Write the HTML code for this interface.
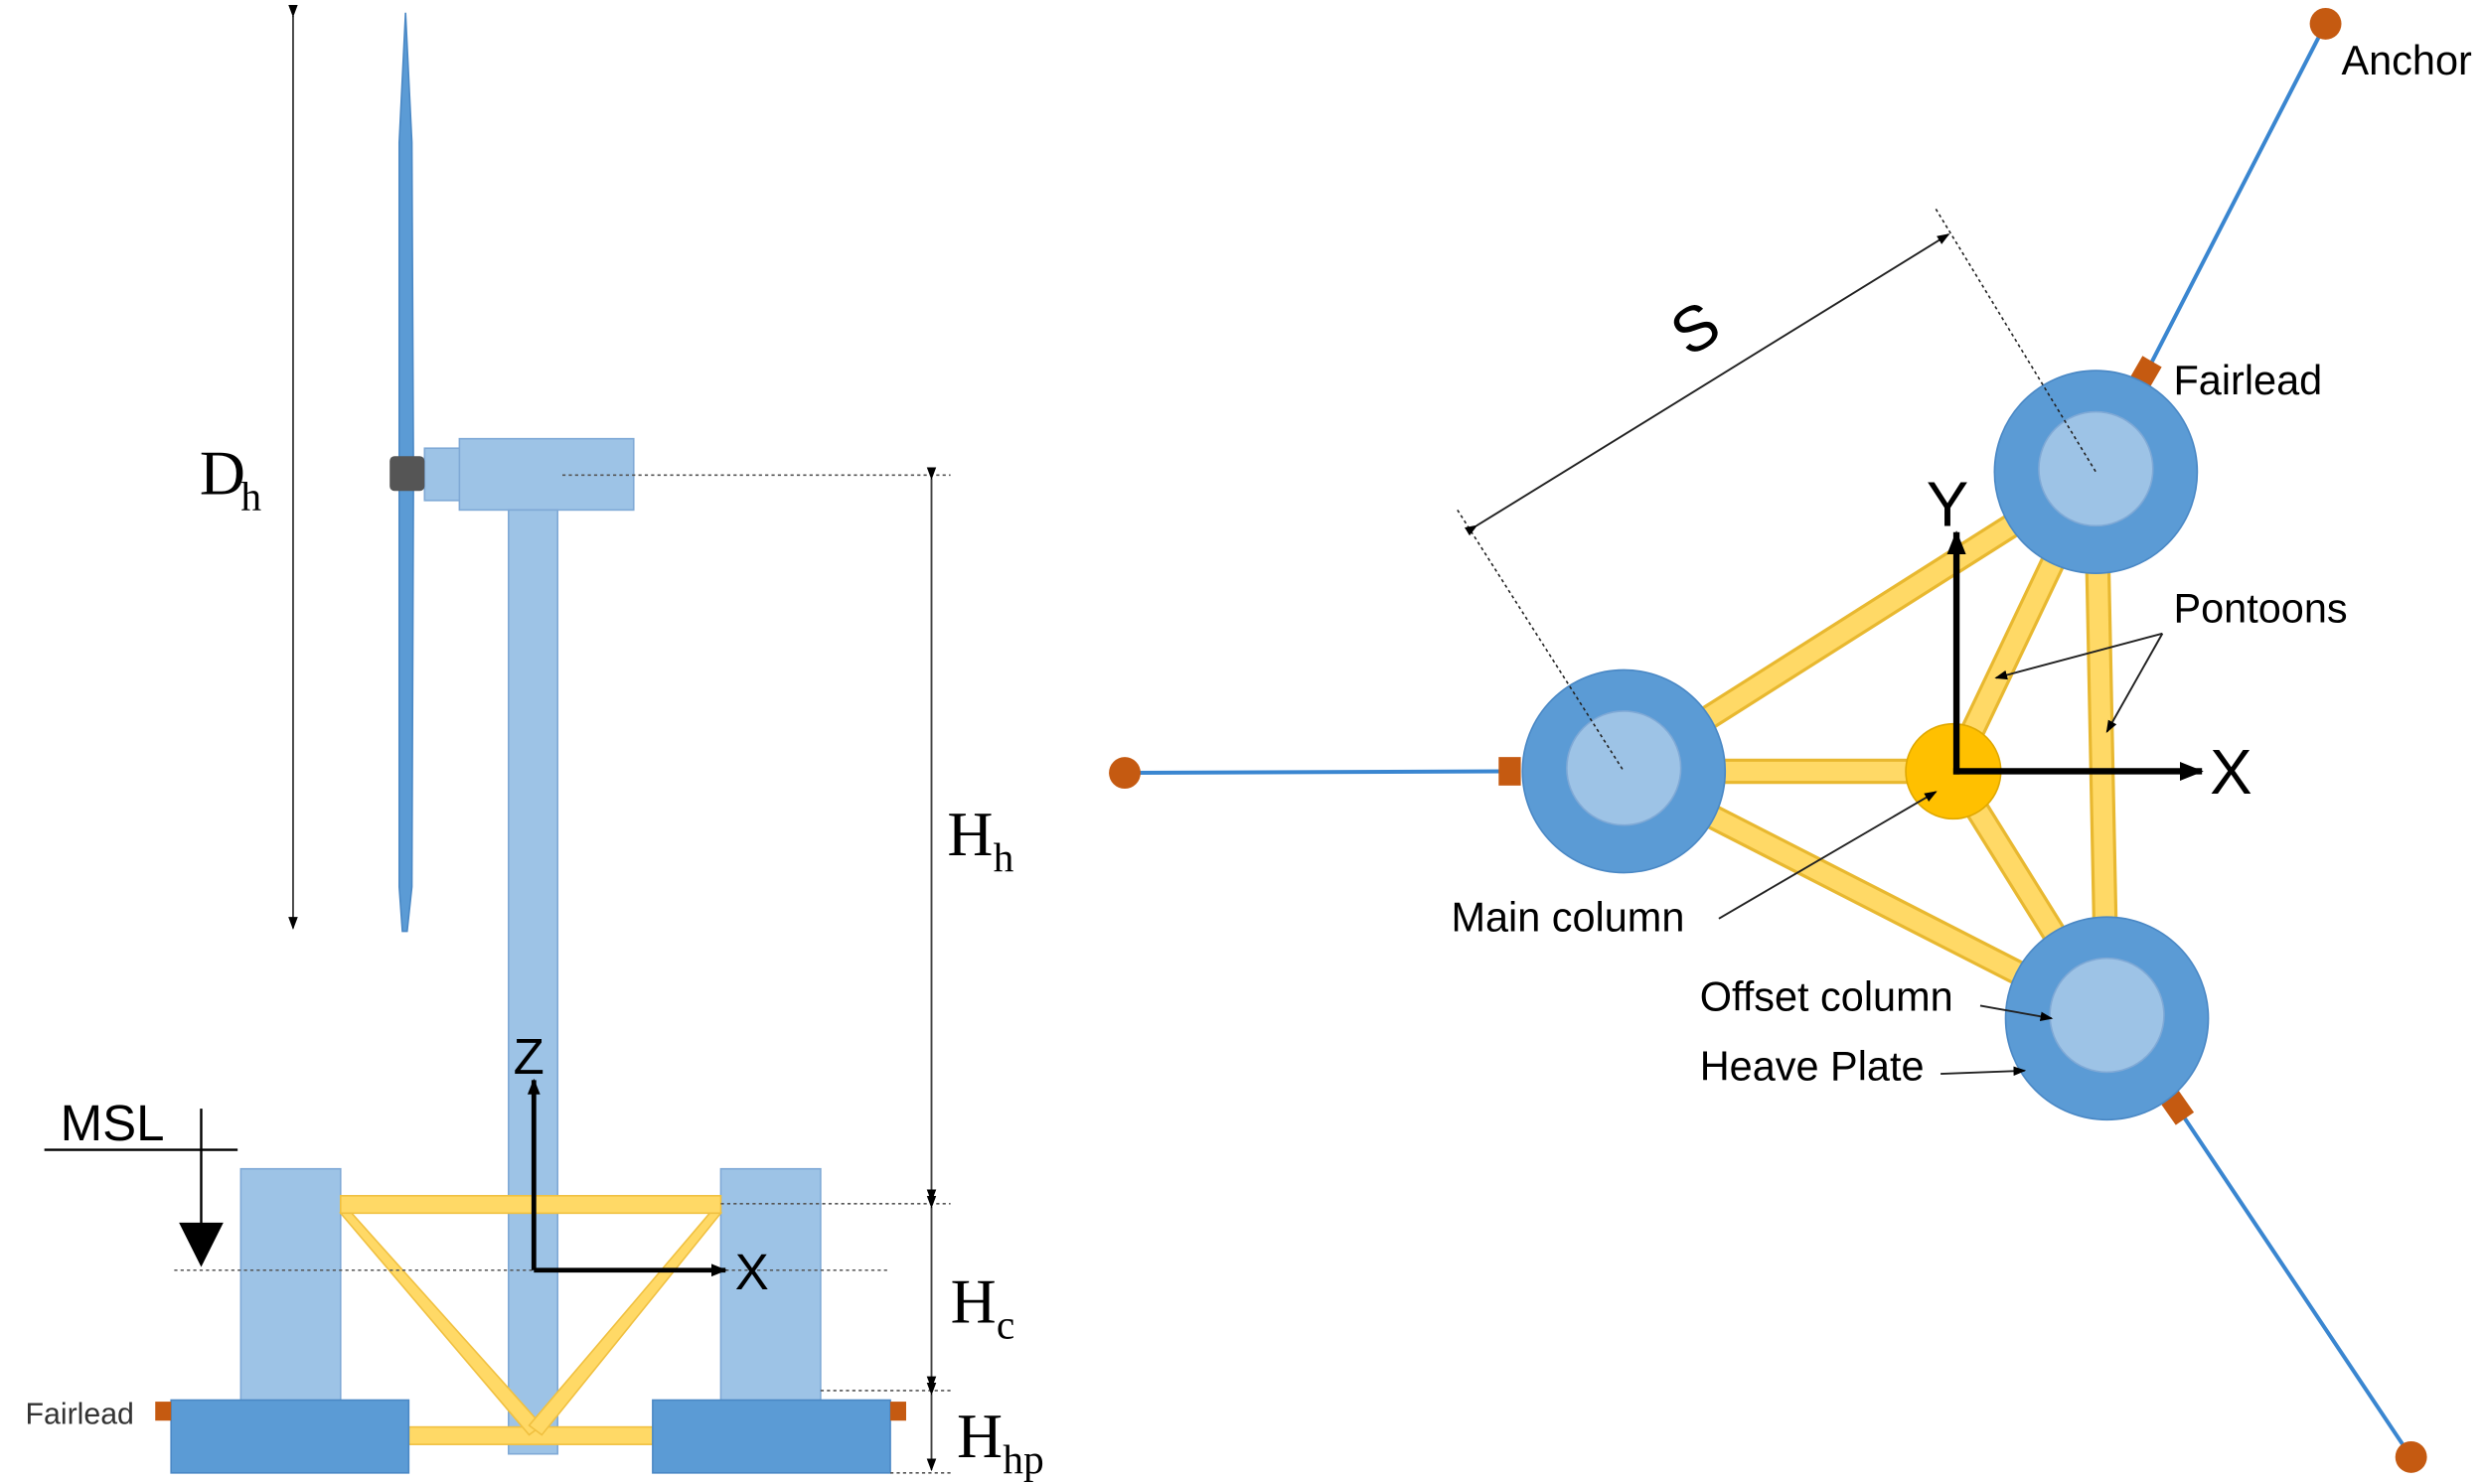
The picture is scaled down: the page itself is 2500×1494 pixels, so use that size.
<!DOCTYPE html>
<html><head><meta charset="utf-8"><style>
html,body{margin:0;padding:0;background:#fff;}
svg{display:block;}
text{font-family:"Liberation Sans",sans-serif;}
.serif{font-family:"Liberation Serif",serif;}
</style></head><body>
<svg width="2500" height="1494" viewBox="0 0 1568 937" preserveAspectRatio="none" xmlns="http://www.w3.org/2000/svg">
<defs>
<marker id="a" markerWidth="10" markerHeight="10" refX="9" refY="5" orient="auto" markerUnits="userSpaceOnUse"><path d="M0,1 L10,5 L0,9 z" fill="#000"/></marker>
<marker id="as" markerWidth="8" markerHeight="8" refX="7" refY="4" orient="auto" markerUnits="userSpaceOnUse"><path d="M0,1 L8,4 L0,7 z" fill="#000"/></marker>
<marker id="ab" markerWidth="16" markerHeight="16" refX="14" refY="8" orient="auto" markerUnits="userSpaceOnUse"><path d="M0,2 L15,8 L0,14 z" fill="#000"/></marker>
</defs>
<rect width="1568" height="937" fill="#fff"/>

<line x1="185" y1="10" x2="185" y2="586" stroke="#444" stroke-width="1.2" marker-start="url(#as)" marker-end="url(#as)"/>
<text x="126" y="312" class="serif" font-size="40">D</text><text x="152" y="322" class="serif" font-size="26">h</text>
<path d="M256,8 L260,90 L261,300 L260,560 L257,588 L254,588 L252,560 L252,300 L252,90 Z" fill="#5b9bd5" stroke="#4a88c5" stroke-width="1"/>
<rect x="268" y="283" width="24" height="33" fill="#9dc3e6" stroke="#7fa9d6"/>
<rect x="290" y="277" width="110" height="45" fill="#9dc3e6" stroke="#7fa9d6"/>
<rect x="246" y="288" width="22" height="22" fill="#555" rx="3"/>
<rect x="321" y="322" width="31" height="596" fill="#9dc3e6" stroke="#7fa9d6"/>
<line x1="355" y1="300" x2="600" y2="300" stroke="#555" stroke-dasharray="2,2"/>
<line x1="588" y1="302" x2="588" y2="758" stroke="#444" stroke-width="1.2" marker-start="url(#as)" marker-end="url(#as)"/>
<text x="598" y="540" class="serif" font-size="40">H</text><text x="627" y="550" class="serif" font-size="26">h</text>
<rect x="152" y="738" width="63" height="147" fill="#9dc3e6" stroke="#7fa9d6"/>
<rect x="455" y="738" width="63" height="147" fill="#9dc3e6" stroke="#7fa9d6"/>
<g fill="#ffd966" stroke="#f0c040" stroke-width="1">
<rect x="215" y="755" width="240" height="11"/>
<rect x="258" y="901" width="154" height="11"/>
<polygon points="215,766 222,766 342,900 334,906"/>
<polygon points="455,766 448,766 334,900 342,906"/>
</g>
<rect x="108" y="884" width="150" height="46" fill="#5b9bd5" stroke="#4a88c5"/>
<rect x="412" y="884" width="150" height="46" fill="#5b9bd5" stroke="#4a88c5"/>
<rect x="98" y="885" width="10" height="12" fill="#c55a11"/>
<rect x="562" y="885" width="10" height="12" fill="#c55a11"/>
<text x="16" y="899" font-size="19" fill="#333">Fairlead</text>
<line x1="110" y1="802" x2="560" y2="802" stroke="#555" stroke-dasharray="2,2"/>
<line x1="455" y1="760" x2="600" y2="760" stroke="#555" stroke-dasharray="2,2"/>
<line x1="518" y1="878" x2="600" y2="878" stroke="#555" stroke-dasharray="2,2"/>
<line x1="562" y1="930" x2="600" y2="930" stroke="#555" stroke-dasharray="2,2"/>
<line x1="588" y1="762" x2="588" y2="876" stroke="#444" stroke-width="1.2" marker-start="url(#as)" marker-end="url(#as)"/>
<line x1="588" y1="880" x2="588" y2="928" stroke="#444" stroke-width="1.2" marker-start="url(#as)" marker-end="url(#as)"/>
<text x="600" y="835" class="serif" font-size="40">H</text><text x="629" y="845" class="serif" font-size="26">c</text>
<text x="604" y="920" class="serif" font-size="40">H</text><text x="633" y="930" class="serif" font-size="26">hp</text>
<text x="38" y="720" font-size="32">MSL</text>
<line x1="28" y1="726" x2="150" y2="726" stroke="#000" stroke-width="1.5"/>
<line x1="127" y1="700" x2="127" y2="775" stroke="#000" stroke-width="1.5"/>
<polygon points="113,772 141,772 127,800" fill="#000"/>
<line x1="337" y1="802" x2="337" y2="682" stroke="#000" stroke-width="3" marker-end="url(#a)"/>
<line x1="337" y1="802" x2="458" y2="802" stroke="#000" stroke-width="3" marker-end="url(#a)"/>
<text x="324" y="678" font-size="32">Z</text>
<text x="464" y="814" font-size="32">X</text>

<g stroke="#3a86d0" stroke-width="2.5">
<line x1="710" y1="488" x2="950" y2="487"/>
<line x1="1355" y1="235" x2="1468" y2="15"/>
<line x1="1375" y1="700" x2="1522" y2="920"/>
</g>
<g fill="#c55a11">
<circle cx="710" cy="488" r="10"/>
<circle cx="1468" cy="15" r="10"/>
<circle cx="1522" cy="920" r="10"/>
<rect x="946" y="478" width="14" height="18"/>
<rect x="1347" y="227" width="14" height="18" transform="rotate(30 1354 236)"/>
<rect x="1367" y="690" width="14" height="18" transform="rotate(-35 1374 699)"/>
</g>
<g stroke="#e8b830" stroke-width="16">
<line x1="1025" y1="487" x2="1323" y2="298"/>
<line x1="1025" y1="487" x2="1330" y2="643"/>
<line x1="1323" y1="298" x2="1330" y2="643"/>
<line x1="1025" y1="487" x2="1233" y2="487"/>
<line x1="1233" y1="487" x2="1323" y2="298"/>
<line x1="1233" y1="487" x2="1330" y2="643"/>
</g>
<g stroke="#ffd966" stroke-width="12">
<line x1="1025" y1="487" x2="1323" y2="298"/>
<line x1="1025" y1="487" x2="1330" y2="643"/>
<line x1="1323" y1="298" x2="1330" y2="643"/>
<line x1="1025" y1="487" x2="1233" y2="487"/>
<line x1="1233" y1="487" x2="1323" y2="298"/>
<line x1="1233" y1="487" x2="1330" y2="643"/>
</g>
<circle cx="1025" cy="487" r="64" fill="#5b9bd5" stroke="#4a88c5"/>
<circle cx="1025" cy="485" r="36" fill="#9dc3e6" stroke="#7fa9d6"/>
<circle cx="1323" cy="298" r="64" fill="#5b9bd5" stroke="#4a88c5"/>
<circle cx="1323" cy="296" r="36" fill="#9dc3e6" stroke="#7fa9d6"/>
<circle cx="1330" cy="643" r="64" fill="#5b9bd5" stroke="#4a88c5"/>
<circle cx="1330" cy="641" r="36" fill="#9dc3e6" stroke="#7fa9d6"/>
<circle cx="1233" cy="487" r="30" fill="#ffc000" stroke="#e0a800"/>
<line x1="1235" y1="489" x2="1235" y2="336" stroke="#000" stroke-width="4" marker-end="url(#ab)"/>
<line x1="1233" y1="487" x2="1390" y2="487" stroke="#000" stroke-width="4" marker-end="url(#ab)"/>
<text x="1216" y="332" font-size="40">Y</text>
<text x="1395" y="501" font-size="40">X</text>
<line x1="920" y1="322" x2="1025" y2="487" stroke="#222" stroke-dasharray="2,2"/>
<line x1="1222" y1="132" x2="1323" y2="298" stroke="#222" stroke-dasharray="2,2"/>
<line x1="932" y1="332" x2="1230" y2="148" stroke="#222" stroke-width="1.2" marker-start="url(#as)" marker-end="url(#as)"/>
<text x="1066" y="226" font-size="40" transform="rotate(-32 1066 226)">S</text>
<g font-size="26">
<text x="1478" y="47">Anchor</text>
<text x="1372" y="249">Fairlead</text>
<text x="1372" y="393">Pontoons</text>
<text x="916" y="588">Main column</text>
<text x="1073" y="638">Offset column</text>
<text x="1073" y="682">Heave Plate</text>
</g>
<g stroke="#222" stroke-width="1.2" fill="none">
<line x1="1365" y1="400" x2="1260" y2="428" marker-end="url(#as)"/>
<line x1="1365" y1="400" x2="1330" y2="462" marker-end="url(#as)"/>
<line x1="1085" y1="580" x2="1222" y2="500" marker-end="url(#as)"/>
<line x1="1250" y1="635" x2="1295" y2="643" marker-end="url(#as)"/>
<line x1="1225" y1="678" x2="1278" y2="676" marker-end="url(#as)"/>
</g>
</svg>
</body></html>
